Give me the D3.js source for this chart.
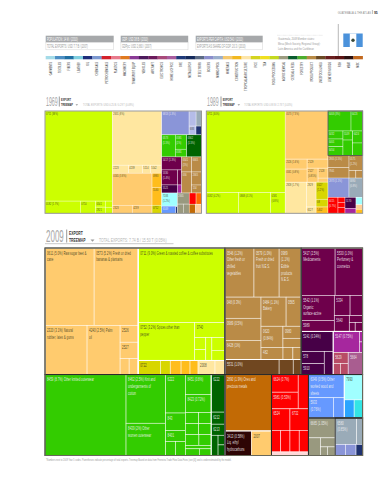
<!DOCTYPE html>
<html><head><meta charset="utf-8">
<style>html,body{margin:0;padding:0;background:#fff}svg{display:block}</style>
<script src="https://cdn.jsdelivr.net/npm/d3@7"></script>
</head><body><svg id="c" width="387" height="480"></svg>
<script>
// ---- helpers describing how the treemaps nest (x = split across, y = split down)
const X=(...c)=>Object.assign(c,{dir:'x'});
const Y=(...c)=>Object.assign(c,{dir:'y'});
const block=(values,labels,color)=>Object.assign(values,{labels,color});
const F=n=>Object.assign(n,{frame:'#2b2b2b'});
const W=n=>Object.assign(n,{frame:'#fff'});

// ---- palette of the product communities
const palette={a:'#ccff00',y:'#d8d600',o:'#ffcb6e',g:'#ffbd1c',c:'#ffe7a0',b:'#ba8b47',d:'#704720',m:'#6e004b',p:'#470047',h:'#a6279e',r:'#b84c66',v:'#a95d90',G:'#33cc00',D:'#006400',O:'#c26a05',k:'#2e0505',R:'#ff0000',B:'#6699ff',C:'#a0ffff',A:'#2aa5ff',T:'#33e5e5',n:'#99997f',s:'#9aabb8',P:'#8a95d8',L:'#b5bce8',N:'#1f3270',Q:'#ffd8d8',E:'#ff6a00',e:'#ffd09a'};

// ---- 2009 export shares (% of total)
const orange09=block(Y(X(5.72,5.13),X(3.12,2.45,Y(.46,.44,X(.22,.22)))),['0611 (5.0%) Raw sugar beet &\ncane','0573 (5.2%) Fresh or dried\nbananas & plantains','2320 (3.1%) Natural\nrubber, latex & gums','4240 (2.5%) Palm\noil','2526','2527'],'o');
const lime09=block(Y(9.75,X(3.22,Y(.68,X(Y(.2,.18),.21,Y(.25,.2))))),['0711 (9.0%) Green & roasted coffee & coffee substitutes','0752 (3.2%) Spices other than\npepper','0740'],'a');
const stripYellow09=block(X(.47,.21),['0722'],'y');
const stripGold09=block(X(.23,.19,.17),[],'g');
const stripCream09=block(X(.36,.21),['2008'],'c');
const brown09=block(Y(X(2.15,1.86,1.63),X(Y(1.15,1.2,1.04),Y(X(1.1,.66),X(.7,Y(.33,.25)),X(.4,.18,.15)))),['0546 (1.2%)\nOther fresh or\nchilled\nvegetables','0579 (1.0%)\nFresh or dried\nfruit N.E.S.','0989\n(1.1%)\nEdible\nproducts\nN.E.S.','048 (0.3%)','0989 (0.5%)','6428 (1%)','0484 (1.1%)\nBakery','0565','0620\n(0.84%)','0980','','482'],'b');
const darkBrown09=block(X(1.23,.32,.18),['5531 (1.0%)'],'d');
const magenta09=block(Y(X(2.42,1.96),X(Y(1.25,.55),Y(X(.48,.38),X(.36,Y(.14,X(.08,.1)))))),['5417 (2.5%)\nMedicaments','5530 (1.0%)\nPerfumery &\ncosmetics','5542 (1.1%)\nOrganic\nsurface-active','5989','5334','','5640'],'m');
const darkPurple09=block(Y(.97,X(Y(.42,.38),.31)),['5241 (0.34%)','578','5910'],'p');
const violet09=block(X(.83,Y(.05,.05)),['5147 (0.75%)'],'h');
const rose09=block(Y(.25,X(.12,.13)),['5629'],'r');
const mauve09=block(Y(.48),['5664'],'v');
const green09=block(X(9.88,Y(2.9,1.92),Y(1.15,.52,.33,X(.21,.21)),Y(.77,.7,X(.22,.21),X(.22,.21),Y(X(.22,.2),.13,X(.14,.12)))),['8459 (8.7%) Other knitted outerwear','8462 (2.5%) Knit and\nundergarments of\ncotton','8439 (2%) Other\nwomen outerwear','6222','843','8401','','','8451 (0.8%)','8423 (0.72%)'],'G');
const darkGreen09=block(Y(.78,.25,.23,X(.21,Y(.1,.11))),['6222','6212','6213'],'D');
const ores09=block(Y(3.95),['2890 (1.9%) Ores and\nprecious metals'],'O');
const oil09=block(Y(.98),['3413 (0.58%)\nLiq. ethyl\nhydrocarbons'],'k');
const orangeB09=block(Y(.74),['2007'],'o');
const red09=block(Y(X(Y(.71,.67),.53),X(Y(.6,X(.3,.3)),Y(.6,X(.3,.3)))),['6624 (0.7%)','5981 (0.53%)','','6524','','','6732'],'R');
const pale09=block(Y(.2),[],'Q');
const blue09=block(Y(1.25,X(.76,.33)),['6349 (0.5%) Other\nworked wood and\nsheets','5933\n(0.76%)'],'B');
const cyan09=block(Y(.7),['7990'],'C');
const azure09=block(Y(.27),[],'A');
const turq09=block(Y(.23),[],'T');
const olive09=block(Y(.8,X(.32,Y(.2,X(.09,.1)))),['6665 (1.05%)'],'n');
const slate09=block(X(.85,.24),['6580\n(0.85%)'],'s');
const peri09=block(X(.17,.18),[],'P');
const navy09=block(Y(.11),[],'N');
const tree2009=Y(
  X(F(X(W(orange09),W(Y(lime09,W(X(stripYellow09,stripGold09,stripCream09)))))),F(Y(brown09,W(darkBrown09))),F(Y(W(magenta09),X(darkPurple09,W(Y(violet09,X(rose09,mauve09))))))),
  X(F(X(green09,W(darkGreen09))),F(Y(ores09,W(X(oil09,orangeB09)))),F(Y(red09,pale09)),
    Y(F(X(blue09,W(Y(cyan09,X(azure09,turq09))))),F(X(olive09,F(Y(slate09,X(peri09,navy09)))))))
);

// ---- 1969 export shares
const lime69=block(Y(37.9,X(2.69,1.15,Y(.37,.38),Y(.27,.27))),['0711 (38%)','0182 (1.7%)','0710','0541','2921'],'a');
const cream69=block(Y(16.7,X(.8,.7,.4,.57)),['2631 (8%)','2223','4239','5114','5542'],'c');
const orange69=block(Y(7.94,X(1,1)),['0565 (3.8%)','2323','4239'],'o');
const gold69=block(Y(.85,1.09),['0983','5540'],'g');
const yellow69=block(Y(.49),['0712'],'y');
const peri69=block(Y(4.07),['6813 (1.3%)'],'P');
const lilacA69=block(Y(.66),[],'L');
const slate69=block(Y(.51),[],'s');
const lilacB69=block(Y(.38),['683'],'L');
const navy69=block(Y(.3),[],'N');
const green69=block(X(1.87,Y(1.02,.55)),['0573\n(1.5%)','0581\n(1%)','0581'],'G');
const darkGreen69=block(Y(2.04),['0562\n(1.5%)'],'D');
const magenta69=block(Y(1.62,X(1.5,.37)),['5417 (1.3%)','5330\n(1.4%)'],'m');
const purple69=block(Y(.8),['5521'],'p');
const violet69=block(Y(.2),[],'h');
const brown69=block(Y(X(.94,.92),X(1.31,Y(.8,.49))),['0541\n(1%)','6665','056','2665','154'],'b');
const cyan69=block(Y(1.28),['7183\n(1.2%)'],'C');
const blue69=block(Y(.63),['6349'],'B');
const navyB69=block(Y(.07),[],'N');
const oliveA69=block(Y(.82),['2665'],'n');
const oliveB69=block(X(.34,.34),[],'n');
const red69=block(Y(.48),[],'R');
const flame69=block(Y(.38),[],'E');
const ochre69=block(Y(.36),[],'O');
const gold69b=block(Y(.34),[],'e');
const tree1969=X(lime69,
  Y(cream69,X(orange69,Y(gold69,yellow69))),
  Y(X(peri69,Y(X(lilacA69,slate69),X(lilacB69,navy69))),
    X(green69,darkGreen69),
    X(Y(magenta69,X(purple69,violet69)),brown69),
    X(Y(cyan69,X(blue69,navyB69)),Y(oliveA69,oliveB69),Y(X(red69,flame69),X(ochre69,gold69b))))
);

// ---- 1989 export shares
const lime89=block(Y(40.3,X(4.17,4.12,1.88)),['0711 (40%)','0582 (4.2%)','0808 (4.1%)','0581\n(0.8%)'],'a');
const orange89=block(Y(12.89),['0573 (7.3%)'],'o');
const orangeB89=block(X(Y(1.37,1.79),Y(1.18,X(Y(.96),Y(.62,.25)))),['2526 (1.6%)','0561 (0.8%)','2529','2527\n(0.85%)','2528'],'o');
const cream89=block(Y(4.15),['2928 (1.7%)'],'c');
const creamB89=block(Y(1.5,.38),['2929','6527'],'c');
const yellow89=block(Y(1.27,.58),['0527\n(1.2%)','08'],'y');
const gold89=block(Y(.47),['5402'],'g');
const green89=block(Y(X(2.88,1.46),X(Y(.75,.72,.84),Y(.55,.95),Y(.75,.79))),['6403 (3%)','6423','6432','6401','6454','5149','','6424'],'G');
const brown89=block(X(Y(1.57,1.38),Y(1.28,X(.32,.32))),['2805 (1.5%)','7941','0575\n(1.2%)'],'b');
const peri89=block(Y(2.53),['2873 (1.1%)'],'P');
const slate89=block(Y(1.65),['6880\n(0.8%)'],'s');
const red89=block(X(Y(1),Y(.22,.22,.26)),['6415\n(0.7%)'],'R');
const purple89=block(Y(.76),['5170'],'p');
const violet89=block(Y(.34),[],'h');
const cyan89=block(Y(.31),[],'C');
const peach89=block(Y(.19),[],'e');
const gold89b=block(Y(.17),[],'g');
const tree1989=X(lime89,
  Y(orange89,orangeB89,X(cream89,creamB89,Y(yellow89,gold89))),
  Y(F(green89),brown89,X(peri89,slate89),X(red89,Y(purple89,violet89),Y(cyan89,peach89,gold89b)))
);

// ---- header figures and legend
const statsTop=['POPULATION: 14 M / (2010)','GDP: USD 38 B / (2010)','EXPORTS PER CAPITA: USD 540 / (2010)'];
const statsBottom=['TOTAL EXPORTS: USD 7.7 B / (2007)','GDPpc: USD 2,660 / (2007)','EXPORTS AS SHARE OF GDP: 20.3 / (2010)'];
const noteLines=['Guatemala, 2009 Member states:','Mesa (Mesh Society, Regional Group):','Latin America and the Caribbean'];
const legendNames=['GARMENTS','TEXTILES','FIBERS','LEATHER','OIL','CHEMICALS','PETROCHEMICALS','PLASTICS','MACHINERY','TRANSPORT EQUIP','VEHICLES','AIRCRAFT','ELECTRONICS','HOME & OFFICE','ORE','METALLURGY','STEEL WORK','BOILERS','MINING PROD','MINERALS','CONSTRUCTION','TROPICAL AGRICULTURE','RICE','TEA','FOOD PROCESSING','AGROCHEMICAL','CEREAL & FEED','FORESTRY','WOOD PRODUCT','LIVESTOCK & MILK','LEATHER GOODS','FISH','MEAT','MISC'];
const legendColors=['#a4dbe8','#4d8fc4','#1f6fa3','#80cfe0','#1d2d7a','#7c99d1','#d4202a','#e87a8c','#e07a1f','#8a3a96','#4d1a5c','#6b1a5c','#a84a7a','#a85c9e','#1f3a7a','#152a5c','#5c6b85','#8a8ecc','#9aaecc','#f5c86e','#f2b81f','#fde5a8','#d4d41f','#f0e01f','#c4d91f','#9c9c80','#0a5c2e','#4dae2e','#b88a45','#6b4a24','#6b1f1f','#5c1414','#2a1010','#c2691f'];
const footer='*Numbers next to 2009 Year 5 codes. Parentheses indicate percentage of total exports. Treemap Based on data from Feenstra Trade Flow Data Fixes (see [4]) and is underestimated by the model.';

const NARROW='"Liberation Sans Narrow","Liberation Sans",sans-serif';
const svg=d3.select('#c');

function txt(x,y,s,size,fill,o={}){
  const sx=o.sx==null?.6:o.sx;
  return svg.append('text').attr('transform',`translate(${x},${y}) scale(${sx},1)`)
    .attr('font-family',NARROW).attr('font-size',size).attr('fill',fill)
    .attr('font-weight',o.bold?'bold':'normal').attr('text-anchor',o.anchor||'start').text(s);
}

// header
txt(371,13.5,'GUATEMALA & THE ATLAS',3.8,'#8c8c8c',{anchor:'end',sx:.7});
txt(374,13.5,'95',4.2,'#333',{sx:.8,bold:true});
svg.append('line').attr('x1',372.4).attr('x2',372.4).attr('y1',10).attr('y2',14).attr('stroke','#777').attr('stroke-width',.5);

statsTop.forEach((s,i)=>{
  const x=[45.7,120.7,195.7][i],w=[68,67.5,67][i];
  svg.append('rect').attr('x',x).attr('y',35.7).attr('width',w).attr('height',6.8).attr('fill','#a6a8aa');
  svg.append('rect').attr('x',x+.2).attr('y',42.5).attr('width',w-.4).attr('height',7.3).attr('fill','#fff').attr('stroke','#d4d4d4').attr('stroke-width',.5);
  txt(x+1.2,41,s,4.8,'#fff',{sx:.5});
  txt(x+1.2,48.2,statsBottom[i],4.8,'#999',{sx:.5});
});
svg.append('line').attr('x1',277).attr('x2',323).attr('y1',35.3).attr('y2',35.3).attr('stroke','#bbb').attr('stroke-width',.4).attr('stroke-dasharray','.6 .6');
noteLines.forEach((l,i)=>txt(278,i*4.7+40.3,l,4,'#999',{sx:.62}));
svg.append('line').attr('x1',338.3).attr('x2',338.3).attr('y1',24).attr('y2',56).attr('stroke','#999').attr('stroke-width',.7);
// flag of Guatemala
svg.append('rect').attr('x',343.3).attr('y',33.5).attr('width',19.4).attr('height',13.5).attr('fill','#4b92db');
svg.append('rect').attr('x',349.8).attr('y',33.5).attr('width',6.5).attr('height',13.5).attr('fill','#fff');
svg.append('circle').attr('cx',353).attr('cy',40.2).attr('r',1.7).attr('fill','#3a4a3a');

// legend strip
const band=d3.scaleBand().domain(legendNames).range([45.7,362.7]);
svg.selectAll('rect.lg').data(legendNames).join('rect').attr('class','lg')
  .attr('x',d=>band(d)).attr('y',56).attr('width',band.bandwidth()+.2).attr('height',3.3)
  .attr('fill',(d,i)=>legendColors[i]);
legendNames.forEach(n=>{
  const cx=band(n)+band.bandwidth()/2+1.2;
  svg.append('text').attr('transform',`translate(${cx},62) rotate(-90) scale(.6,1)`)
    .attr('text-anchor','end').attr('font-family',NARROW).attr('font-size',3.9).attr('fill','#333').text(n);
});

// treemap drawing
const tile=(node,x0,y0,x1,y1)=>(node.data.dir==='x'?d3.treemapDice:d3.treemapSlice)(node,x0,y0,x1,y1);
function drawMap(tree,box,style){
  const root=d3.hierarchy(tree,d=>Array.isArray(d)?d:null).sum(d=>typeof d==='number'?d:0);
  d3.treemap().size([box.w,box.h]).tile(tile)(root);
  root.eachBefore(n=>{
    if(n.data.color){
      n.leaves().forEach((lf,i)=>{lf.col=n.data.color;lf.label=(n.data.labels||[])[i]||'';});
    }
  });
  const g=svg.append('g').attr('transform',`translate(${box.x},${box.y})`);
  const leaves=root.leaves();
  g.selectAll('rect.leaf').data(leaves).join('rect').attr('class','leaf')
    .attr('x',d=>d.x0).attr('y',d=>d.y0).attr('width',d=>d.x1-d.x0).attr('height',d=>d.y1-d.y0)
    .attr('fill',d=>palette[d.col]).attr('stroke','#fff').attr('stroke-opacity',style.lineOp).attr('stroke-width',style.line);
  const framed=root.descendants().filter(d=>d.data.frame).sort((a,b)=>(a.data.frame==='#fff'?0:1)-(b.data.frame==='#fff'?0:1));
  g.selectAll('rect.frame').data(framed).join('rect').attr('class','frame')
    .attr('x',d=>d.x0).attr('y',d=>d.y0).attr('width',d=>d.x1-d.x0).attr('height',d=>d.y1-d.y0)
    .attr('fill','none').attr('stroke',d=>d.data.frame).attr('stroke-width',style.frame);
  g.append('rect').attr('width',box.w).attr('height',box.h).attr('fill','none').attr('stroke',style.outer).attr('stroke-width',.9);
  leaves.filter(d=>d.label).forEach(d=>{
    const fill=d3.lab(palette[d.col]).l>75?'#3a3a20':'#f4f4f4';
    d.label.split('\n').forEach((ln,i)=>{
      g.append('text').attr('transform',`translate(${d.x0+style.pad},${d.y0+style.first+i*style.lh}) scale(${style.sx},1)`)
        .attr('font-family',NARROW).attr('font-size',style.size).attr('fill',fill).attr('fill-opacity',.9).text(ln);
    });
  });
}
const smallStyle={line:.45,lineOp:.75,frame:.7,outer:'#8f8f8f',pad:1,first:4.2,lh:5,size:4.1,sx:.58};
drawMap(tree1969,{x:45,y:111,w:156.5,h:102.3},smallStyle);
drawMap(tree1989,{x:206.3,y:111,w:156.4,h:102.3},smallStyle);
drawMap(tree2009,{x:45,y:248,w:317.6,h:207.5},{line:.6,lineOp:.8,frame:1,outer:'#6f6f5f',pad:2,first:6.6,lh:6.7,size:5.3,sx:.55});

// treemap titles
function mapTitle(o){
  txt(o.x,o.base,o.year,o.ysize,'#a8a8a8',{sx:o.ysx});
  svg.append('line').attr('x1',o.sep).attr('x2',o.sep).attr('y1',o.base-o.ysize*.78).attr('y2',o.base+.5).attr('stroke','#555').attr('stroke-width',.6);
  txt(o.sep+o.gap,o.base-o.lh-.3,'EXPORT',o.tsize,'#333',{bold:true,sx:.6});
  txt(o.sep+o.gap,o.base-.3,'TREEMAP',o.tsize,'#333',{bold:true,sx:.6});
  const t=o.tri;
  svg.append('path').attr('d',`M${t},${o.base-o.tr*1.3}h${o.tr*2}l${-o.tr},${o.tr*1.2}z`).attr('fill','#999');
  txt(o.tx,o.base-.4,o.total,o.tsize,'#b5b5b5',{sx:o.tsx});
}
mapTitle({x:46,base:106,year:'1969',ysize:12.2,ysx:.43,sep:59.3,gap:1.7,lh:4.6,tsize:4.1,tri:75.5,tr:1.3,tx:83,total:'TOTAL EXPORTS: USD 0.25 B / 0.29 T (0.09%)',tsx:.58});
mapTitle({x:207,base:106,year:'1989',ysize:12.2,ysx:.43,sep:221,gap:1.7,lh:4.6,tsize:4.1,tri:237.5,tr:1.3,tx:244.3,total:'TOTAL EXPORTS: USD 0.98 B / 2.78 T (0.03%)',tsx:.55});
mapTitle({x:46,base:242,year:'2009',ysize:16,ysx:.5,sep:66.7,gap:2.3,lh:6.6,tsize:5.6,tri:90.5,tr:2,tx:99,total:'TOTAL EXPORTS: 7.74 B / 15.50 T (0.05%)',tsx:.62});
svg.append('line').attr('x1',45).attr('x2',173.5).attr('y1',243.7).attr('y2',243.7).attr('stroke','#a5a5a5').attr('stroke-width',.6);

// footnote
txt(46,460.5,footer,3.7,'#9a9a9a',{sx:.58});
</script></body></html>
